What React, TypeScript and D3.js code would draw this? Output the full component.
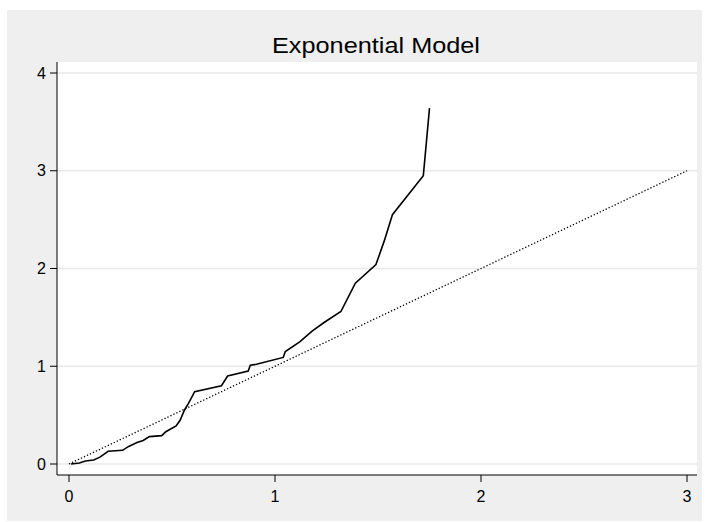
import React from "react";
import * as d3 from "d3";

const xs = [0.01,0.05,0.08,0.12,0.15,0.19,0.26,0.29,0.33,0.36,0.39,0.45,0.47,0.52,0.54,0.56,0.58,0.61,0.74,0.77,0.87,0.88,0.91,1.04,1.05,1.12,1.18,1.24,1.32,1.39,1.49,1.53,1.57,1.72,1.75];
const ys = [0.0,0.01,0.03,0.04,0.07,0.13,0.14,0.18,0.22,0.24,0.28,0.29,0.33,0.39,0.45,0.55,0.62,0.74,0.80,0.90,0.95,1.01,1.02,1.09,1.15,1.25,1.36,1.45,1.56,1.85,2.04,2.28,2.55,2.95,3.64];
const xTicks = [0,1,2,3];
const yTicks = [0,1,2,3,4];
const refLine = [0,3];

export default function App() {
  const W = 709, H = 522;
  const x = d3.scaleLinear().domain([0,3]).range([69,687]);
  const y = d3.scaleLinear().domain([0,4]).range([464,73]);
  const line = d3.line<number>().x((_, i) => x(xs[i])).y((_, i) => y(ys[i]));
  const font = "Arial, 'Liberation Sans', sans-serif";
  return (
    <svg width={W} height={H} style={{position:"absolute",left:0,top:0}}>
      <rect x={0} y={0} width={W} height={H} fill="#fff"/>
      <rect x={7} y={10} width={695} height={511} fill="#efefef"/>
      <rect x={57} y={62} width={640} height={413} fill="#fff"/>
      {yTicks.map(t => <line key={t} x1={57} x2={697} y1={y(t)} y2={y(t)} stroke="#e8e8e8" strokeWidth={1.5}/>)}
      <line x1={57} x2={57} y1={62} y2={475} stroke="#000"/>
      <line x1={57} x2={697} y1={475} y2={475} stroke="#000"/>
      {yTicks.map(t => <g key={t}>
        <line x1={50} x2={57} y1={y(t)} y2={y(t)} stroke="#000"/>
        <text x={46} y={y(t)+5.5} textAnchor="end" fontFamily={font} fontSize={16}>{t}</text>
      </g>)}
      {xTicks.map(t => <g key={t}>
        <line x1={x(t)} x2={x(t)} y1={475} y2={482} stroke="#000"/>
        <text x={x(t)} y={502} textAnchor="middle" fontFamily={font} fontSize={16}>{t}</text>
      </g>)}
      <line x1={x(refLine[0])} y1={y(refLine[0])} x2={x(refLine[1])} y2={y(refLine[1])} stroke="#000" strokeWidth={1.3} strokeDasharray="1.3,2"/>
      <path d={line(xs) || ""} fill="none" stroke="#000" strokeWidth={1.6}/>
      <text x={376} y={53} textAnchor="middle" fontFamily={font} fontSize={22} textLength={208} lengthAdjust="spacingAndGlyphs">Exponential Model</text>
    </svg>
  );
}
